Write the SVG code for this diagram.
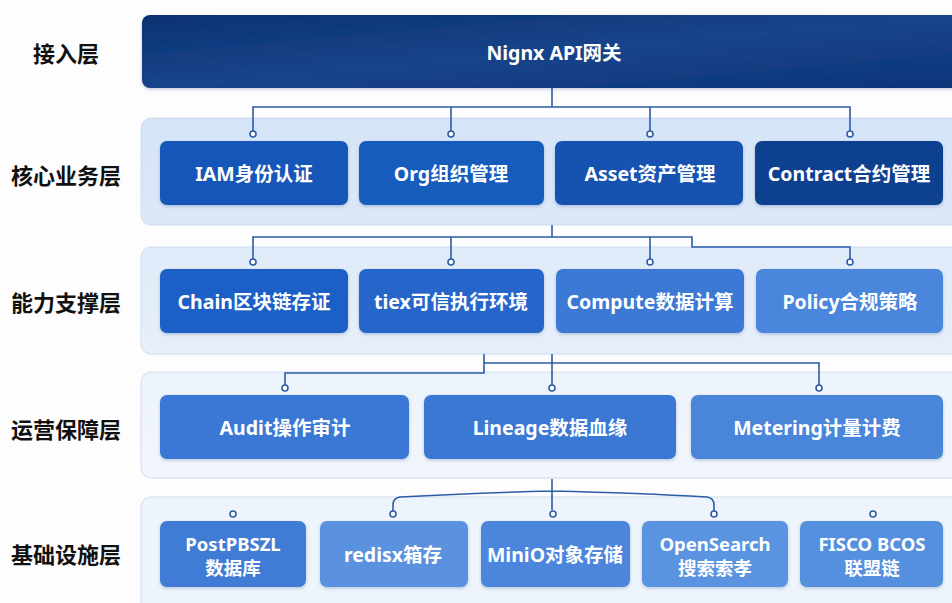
<svg xmlns="http://www.w3.org/2000/svg" width="952" height="603" viewBox="0 0 952 603">
<style>
.lbl{font-family:"Noto Sans CJK SC","Noto Sans",sans-serif;font-weight:700;font-size:22px;fill:#111;text-anchor:middle;dominant-baseline:central}
.nt{font-family:"Noto Sans","Noto Sans CJK SC",sans-serif;font-weight:700;font-size:19.5px;fill:#fff;text-anchor:middle;dominant-baseline:central}
.nt2{font-family:"Noto Sans","Noto Sans CJK SC",sans-serif;font-weight:700;font-size:18.5px;fill:#fff;text-anchor:middle}
.band{stroke:#cfdcef;stroke-width:1}
.conn{fill:none;stroke:#2b5ca8;stroke-width:1.6}
.dot{fill:#fff;stroke:#2b5ca8;stroke-width:1.6}
</style>
<defs>
<linearGradient id="gTop" x1="0" y1="0" x2="1" y2="1"><stop offset="0" stop-color="#0b3274"/><stop offset="0.5" stop-color="#17448a"/><stop offset="1" stop-color="#0c3479"/></linearGradient>
<linearGradient id="b2" x1="0" y1="0" x2="0" y2="1"><stop offset="0" stop-color="#d5e4f7"/><stop offset="1" stop-color="#dce8f8"/></linearGradient>
<linearGradient id="b3" x1="0" y1="0" x2="0" y2="1"><stop offset="0" stop-color="#e0ebf9"/><stop offset="1" stop-color="#e6effa"/></linearGradient>
<linearGradient id="b4" x1="0" y1="0" x2="0" y2="1"><stop offset="0" stop-color="#edf3fb"/><stop offset="1" stop-color="#f1f6fc"/></linearGradient>
<filter id="sh" x="-10%" y="-10%" width="120%" height="130%"><feDropShadow dx="0" dy="1.5" stdDeviation="1.5" flood-color="#1b3f7a" flood-opacity="0.25"/></filter>
</defs>
<rect width="952" height="603" fill="#fdfdfe"/>

<g id="labels">
<text class="lbl" x="66" y="52">接入层</text>
<text class="lbl" x="66" y="174">核心业务层</text>
<text class="lbl" x="66" y="301">能力支撑层</text>
<text class="lbl" x="66" y="428">运营保障层</text>
<text class="lbl" x="66" y="553">基础设施层</text>
</g>

<g id="bands">
<rect class="band" x="141" y="118" width="830" height="107" rx="10" fill="url(#b2)"/>
<rect class="band" x="141" y="247" width="830" height="107" rx="10" fill="url(#b3)"/>
<rect class="band" x="141" y="372" width="830" height="106" rx="10" fill="url(#b4)"/>
<rect class="band" x="141" y="497" width="830" height="120" rx="10" fill="#eef4fc"/>
</g>

<g id="gateway">
<rect x="142" y="15" width="830" height="73" rx="8" fill="url(#gTop)" filter="url(#sh)"/>
<text class="nt" x="554" y="52" font-size="22">Nignx API网关</text>
</g>

<g id="connectors">
<path class="conn" d="M552 88 V107 M253 132 V107 H850 V132 M451 107 V132 M650 107 V132"/>
<path class="conn" d="M552 225 V237 M253 259 V237 H692 V247 H850 V259 M451 237 V259 M650 237 V259"/>
<path class="conn" d="M484 354 V373 H285 V385 M552 354 V385 M484 363 H819 V385"/>
<path class="conn" d="M552 479 V510 M552 491 Q470 493 400 497 Q393 498 393 505 V511 M552 491 Q640 493 707 497 Q714 498 714 505 V511"/>
<circle class="dot" cx="253" cy="134" r="3"/><circle class="dot" cx="451" cy="134" r="3"/><circle class="dot" cx="650" cy="134" r="3"/><circle class="dot" cx="850" cy="134" r="3"/>
<circle class="dot" cx="253" cy="262" r="3"/><circle class="dot" cx="451" cy="262" r="3"/><circle class="dot" cx="650" cy="262" r="3"/><circle class="dot" cx="850" cy="262" r="3"/>
<circle class="dot" cx="285" cy="388" r="3"/><circle class="dot" cx="552" cy="388" r="3"/><circle class="dot" cx="819" cy="388" r="3"/>
<circle class="dot" cx="233" cy="514" r="3"/><circle class="dot" cx="393" cy="514" r="3"/><circle class="dot" cx="553" cy="514" r="3"/><circle class="dot" cx="714" cy="514" r="3"/><circle class="dot" cx="873" cy="514" r="3"/>
</g>

<g id="iam"><rect x="160" y="141" width="188" height="64" rx="7" fill="#1656b8" filter="url(#sh)"/><text class="nt" x="254" y="173">IAM身份认证</text></g>
<g id="org"><rect x="359" y="141" width="185" height="64" rx="7" fill="#195bbd" filter="url(#sh)"/><text class="nt" x="451" y="173">Org组织管理</text></g>
<g id="asset"><rect x="555" y="141" width="188" height="64" rx="7" fill="#1452b0" filter="url(#sh)"/><text class="nt" x="650" y="173">Asset资产管理</text></g>
<g id="contract"><rect x="755" y="141" width="188" height="64" rx="7" fill="#0e3f8f" filter="url(#sh)"/><text class="nt" x="849" y="173">Contract合约管理</text></g>

<g id="chain"><rect x="160" y="269" width="188" height="64" rx="7" fill="#1b5ec7" filter="url(#sh)"/><text class="nt" x="254" y="301">Chain区块链存证</text></g>
<g id="tiex"><rect x="359" y="269" width="185" height="64" rx="7" fill="#2766cb" filter="url(#sh)"/><text class="nt" x="451" y="301">tiex可信执行环境</text></g>
<g id="compute"><rect x="556" y="269" width="188" height="64" rx="7" fill="#3b79d5" filter="url(#sh)"/><text class="nt" x="650" y="301">Compute数据计算</text></g>
<g id="policy"><rect x="756" y="269" width="187" height="64" rx="7" fill="#4a86dc" filter="url(#sh)"/><text class="nt" x="850" y="301">Policy合规策略</text></g>

<g id="audit"><rect x="160" y="395" width="249" height="64" rx="7" fill="#3a78d6" filter="url(#sh)"/><text class="nt" x="285" y="427">Audit操作审计</text></g>
<g id="lineage"><rect x="424" y="395" width="252" height="64" rx="7" fill="#3b78d4" filter="url(#sh)"/><text class="nt" x="550" y="427">Lineage数据血缘</text></g>
<g id="metering"><rect x="691" y="395" width="252" height="64" rx="7" fill="#4a85d8" filter="url(#sh)"/><text class="nt" x="817" y="427">Metering计量计费</text></g>

<g id="postgres"><rect x="160" y="521" width="146" height="66" rx="7" fill="#3f7bd6" filter="url(#sh)"/><text class="nt2" x="233" y="551">PostPBSZL</text><text class="nt2" x="233" y="575">数据库</text></g>
<g id="redis"><rect x="320" y="521" width="148" height="66" rx="7" fill="#5a92e0" filter="url(#sh)"/><text class="nt" x="393" y="554">redisx箱存</text></g>
<g id="minio"><rect x="481" y="521" width="149" height="66" rx="7" fill="#4c86dc" filter="url(#sh)"/><text class="nt" x="555" y="554">MiniO对象存储</text></g>
<g id="opensearch"><rect x="642" y="521" width="146" height="66" rx="7" fill="#5a93e0" filter="url(#sh)"/><text class="nt2" x="715" y="551">OpenSearch</text><text class="nt2" x="715" y="575">搜索索孝</text></g>
<g id="fisco"><rect x="800" y="521" width="143" height="66" rx="7" fill="#5590de" filter="url(#sh)"/><text class="nt2" x="872" y="551">FISCO BCOS</text><text class="nt2" x="872" y="575">联盟链</text></g>
</svg>
